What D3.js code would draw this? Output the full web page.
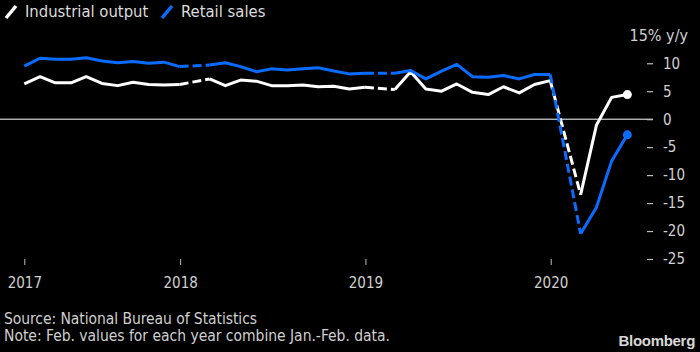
<!DOCTYPE html>
<html><head><meta charset="utf-8">
<script src="https://cdn.jsdelivr.net/npm/d3@7"></script>
<style>
html,body{margin:0;padding:0;background:#000;}
svg{display:block;}
text{font-family:"DejaVu Sans Condensed","Liberation Sans Narrow","Open Sans",sans-serif;}
</style></head><body>
<svg id="c" width="700" height="352"></svg>
<script>
// ---- data ----
const months = [
 "2017-02","2017-03","2017-04","2017-05","2017-06","2017-07","2017-08","2017-09","2017-10","2017-11","2017-12",
 "2018-02","2018-03","2018-04","2018-05","2018-06","2018-07","2018-08","2018-09","2018-10","2018-11","2018-12",
 "2019-02","2019-03","2019-04","2019-05","2019-06","2019-07","2019-08","2019-09","2019-10","2019-11","2019-12",
 "2020-02","2020-03","2020-04","2020-05"
];
const industrialOutput = [
 6.3,7.6,6.5,6.5,7.6,6.4,6.0,6.6,6.2,6.1,6.2,
 7.2,6.0,7.0,6.8,6.0,6.0,6.1,5.8,5.9,5.4,5.7,
 5.3,8.5,5.4,5.0,6.3,4.8,4.4,5.8,4.7,6.2,6.9,
 -13.5,-1.1,3.9,4.4
];
const retailSales = [
 9.5,10.9,10.7,10.7,11.0,10.4,10.1,10.3,10.0,10.2,9.4,
 9.7,10.1,9.4,8.5,9.0,8.8,9.0,9.2,8.6,8.1,8.2,
 8.2,8.7,7.2,8.6,9.8,7.6,7.5,7.8,7.2,8.0,8.0,
 -20.5,-15.8,-7.5,-2.8
];
const yTicks = [10,5,0,-5,-10,-15,-20,-25];
const xTickLabels = ["2017","2018","2019","2020"];
const xTickDates = ["2017-02-28","2018-01-01","2019-01-01","2020-01-01"];
const seriesNames = ["Industrial output","Retail sales"];
const sourceText = "Source: National Bureau of Statistics";
const noteText = "Note: Feb. values for each year combine Jan.-Feb. data.";

// ---- setup ----
const svg = d3.select("#c");
const parseM = d3.timeParse("%Y-%m");
const parseD = d3.timeParse("%Y-%m-%d");
const monthEnd = m => d3.timeDay.offset(d3.timeMonth.offset(parseM(m),1),-1);
const x = d3.scaleTime()
  .domain([parseD("2017-02-28"), parseD("2020-01-01")])
  .range([24.3, 550.7]);
const y = d3.scaleLinear().domain([-25,15]).range([259,35.3]);

const colors = ["#ffffff","#0a6cff"];
const series = [industrialOutput, retailSales].map((vals,i)=>({
  name: seriesNames[i], color: colors[i],
  pts: months.map((m,j)=>({date: monthEnd(m), v: vals[j], yr: +m.slice(0,4)}))
}));

// zero line
svg.append("line").attr("x1",0).attr("x2",653).attr("y1",y(0)).attr("y2",y(0))
  .attr("stroke","#ffffff").attr("stroke-width",1);

// y axis (right)
const yAxis = d3.axisRight(y).tickValues(yTicks).tickSize(6).tickPadding(10).tickFormat(d=>d);
const gy = svg.append("g").attr("transform","translate(647,0)").call(yAxis);
gy.select(".domain").remove();
gy.selectAll(".tick line").attr("stroke","#bdbdbd").attr("stroke-width",1.2);
gy.selectAll(".tick text").attr("fill","#d0d0d0").style("font-size","15px")
  .attr("x",16).attr("text-anchor","start");
svg.append("text").attr("x",688).attr("y",y(15)).attr("dy","0.35em").attr("text-anchor","end")
  .attr("fill","#d0d0d0").style("font-size","16px").text("15% y/y");

// x axis
const xAxis = d3.axisBottom(x).tickValues(xTickDates.map(parseD))
  .tickSize(6).tickPadding(12).tickFormat((d,i)=>xTickLabels[i]);
const gx = svg.append("g").attr("transform","translate(0,259)").call(xAxis);
gx.select(".domain").remove();
gx.selectAll(".tick line").attr("stroke","#bdbdbd");
gx.selectAll(".tick text").attr("fill","#d0d0d0").style("font-size","15px");

// lines
const line = d3.line().x(d=>x(d.date)).y(d=>y(d.v));
series.forEach(s=>{
  const g = svg.append("g");
  const years = d3.groups(s.pts, d=>d.yr);
  // dashed connectors Dec -> Feb
  for(let k=0;k<years.length-1;k++){
    const a = years[k][1][years[k][1].length-1], b = years[k+1][1][0];
    g.append("path").attr("d",line([a,b])).attr("fill","none")
      .attr("stroke",s.color).attr("stroke-width",3).attr("stroke-dasharray","9,4");
  }
  years.forEach(([yr,pts])=>{
    g.append("path").attr("d",line(pts)).attr("fill","none")
      .attr("stroke",s.color).attr("stroke-width",3).attr("stroke-linejoin","round");
  });
  const last = s.pts[s.pts.length-1];
  g.append("circle").attr("cx",x(last.date)).attr("cy",y(last.v)).attr("r",4.5).attr("fill",s.color);
});

// legend
const legX = [5,161];
series.forEach((s,i)=>{
  svg.append("line").attr("x1",legX[i]+1).attr("y1",18).attr("x2",legX[i]+11).attr("y2",6)
    .attr("stroke",s.color).attr("stroke-width",3.5);
  svg.append("text").attr("x",legX[i]+20).attr("y",17).attr("fill","#dcdcdc")
    .style("font-size","16.5px").text(s.name);
});

// footer
svg.append("text").attr("x",4).attr("y",324).attr("fill","#cfcfcf").style("font-size","15.5px")
  .attr("textLength",253).attr("lengthAdjust","spacing").text(sourceText);
svg.append("text").attr("x",4).attr("y",341).attr("fill","#cfcfcf").style("font-size","15.5px")
  .attr("textLength",386).attr("lengthAdjust","spacing").text(noteText);
svg.append("text").attr("x",695).attr("y",346).attr("text-anchor","end").attr("fill","#d8d8d8")
  .style("font-family","'Liberation Sans Narrow','Liberation Sans',Arial,sans-serif")
  .style("font-weight","bold").style("font-size","15px").style("letter-spacing","-0.3px").text("Bloomberg");
</script>
</body></html>
